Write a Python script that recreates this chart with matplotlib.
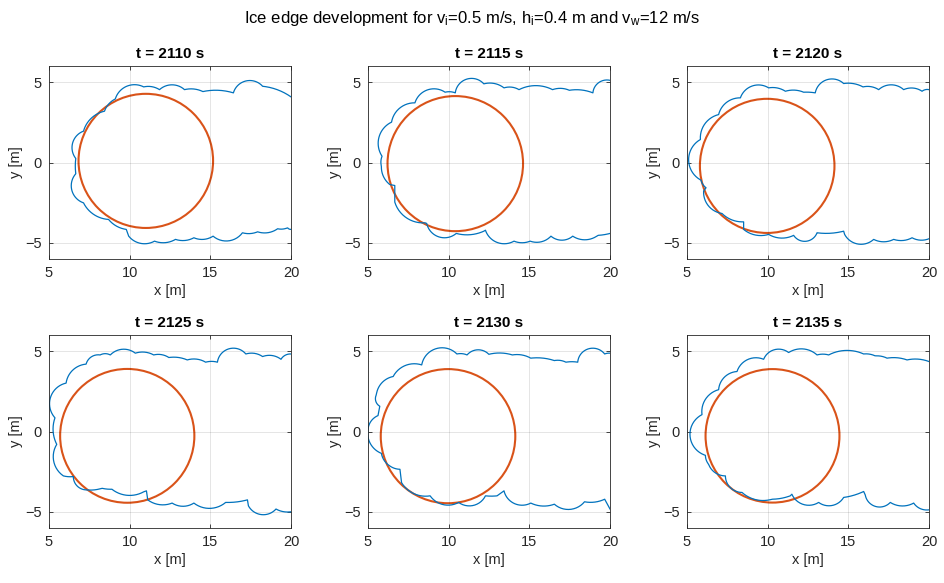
import numpy as np
import matplotlib
matplotlib.use("Agg")
import matplotlib.pyplot as plt
from matplotlib.patches import Circle

plt.rcParams["font.family"] = ["Liberation Sans", "DejaVu Sans"]
plt.rcParams["mathtext.fontset"] = "custom"
plt.rcParams["mathtext.rm"] = "Liberation Sans"
plt.rcParams["mathtext.it"] = "Liberation Sans:italic"

# Simulation snapshots
times = [2110, 2115, 2120, 2125, 2130, 2135]

# Ice edge cusp points (x, y) in metres and arc sagitta of each segment
# (segment i joins point i and point i+1, bulging outward; 0 = straight)
edge_x_2110 = [20.0, 18.24, 16.43, 14.54, 13.40, 11.85, 10.87, 9.11, 8.44, 7.14, 6.66, 6.66, 7.14,
               8.69, 9.79, 9.94, 11.54, 12.84, 13.98, 15.17, 16.99, 17.93, 19.17, 19.79, 20.0]
edge_y_2110 = [4.08, 4.74, 4.33, 4.41, 4.53, 4.53, 4.70, 3.95, 3.19, 1.95, 0.25, -0.70, -2.51,
               -3.54, -4.16, -4.58, -4.89, -4.78, -4.68, -4.58, -4.37, -4.31, -4.12, -4.06, -4.16]
sag_2110 = [0.12, 0.55, 0.12, 0.10, 0.30, 0.10, 0.45, 0.10, 0.25, 0.45, 0.03, 0.50,
            0.25, 0.12, 0.0, 0.30, 0.15, 0.12, 0.15, 0.40, 0.08, 0.15, 0.05, 0.03]

edge_x_2115 = [20.0, 18.94, 17.48, 16.44, 14.36, 13.43, 12.18, 10.41, 9.78, 7.91, 6.46, 5.87, 5.83,
               6.35, 6.66, 6.66, 8.54, 8.64, 10.47, 12.18, 12.28, 14.05, 15.05, 16.34, 17.69, 19.25, 20.0]
edge_y_2115 = [5.11, 4.33, 4.49, 4.53, 4.53, 4.64, 4.89, 4.33, 4.37, 3.71, 2.51, 0.39, -0.23,
               -1.37, -1.43, -2.46, -3.75, -3.79, -4.41, -4.27, -4.21, -4.89, -4.89, -4.58, -4.58, -4.53, -4.41]
sag_2115 = [0.30, 0.10, 0.10, 0.25, 0.10, 0.15, 0.60, 0.05, 0.50, 0.35, 0.50, 0.05,
            0.15, 0.0, 0.0, 0.40, 0.0, 0.55, 0.15, 0.0, 0.45, 0.10, 0.20, 0.25, 0.25, 0.02]

edge_x_2120 = [20.0, 19.57, 18.43, 16.88, 15.91, 14.71, 12.95, 12.23, 11.10, 10.06, 8.31, 6.96, 5.83,
               5.87, 6.18, 6.03, 7.17, 8.51, 8.51, 10.06, 11.61, 13.06, 14.71, 14.77, 16.57, 17.81, 18.95, 20.0]
edge_y_2120 = [4.53, 4.43, 4.53, 4.53, 4.70, 4.91, 4.33, 4.37, 4.43, 4.64, 4.02, 2.98, 1.43,
               -1.10, -1.57, -1.78, -3.17, -3.69, -4.16, -4.47, -4.53, -4.37, -4.27, -4.47, -4.78, -4.78, -4.68, -4.74]
sag_2120 = [0.05, 0.15, 0.30, 0.10, 0.10, 0.55, 0.02, 0.10, 0.10, 0.45, 0.30, 0.35, 0.75,
            0.05, 0.0, 0.35, 0.15, 0.0, 0.20, 0.20, 0.45, 0.08, 0.0, 0.45, 0.15, 0.12, 0.12]

edge_x_2125 = [20.0, 19.38, 18.24, 17.20, 15.44, 14.71, 13.57, 12.43, 11.49, 10.35, 8.80, 8.17, 7.30,
               6.06, 5.37, 5.48, 5.89, 6.51, 7.34, 8.28, 8.90, 10.87, 11.04, 11.12, 12.63, 13.98,
               15.95, 17.30, 17.36, 19.07, 20.0]
edge_y_2125 = [4.82, 4.49, 4.66, 4.82, 4.31, 4.31, 4.45, 4.60, 4.76, 4.87, 4.76, 4.76, 4.19,
               3.01, 0.85, -0.80, -2.76, -2.80, -3.63, -3.53, -3.59, -3.75, -3.69, -4.25, -4.45, -4.45,
               -4.41, -4.25, -4.62, -4.82, -4.99]
sag_2125 = [0.10, 0.15, 0.12, 0.60, 0.05, 0.12, 0.08, 0.10, 0.12, 0.30, 0.08, 0.20, 0.30,
            0.65, 0.17, 0.40, 0.03, 0.25, 0.05, 0.02, 0.30, 0.0, 0.0, 0.20, 0.20, 0.35, 0.05,
            0.0, 0.45, 0.08]

edge_x_2130 = [20.0, 19.67, 18.00, 17.27, 16.55, 15.09, 13.95, 12.49, 11.14, 10.51, 8.33, 6.56, 5.52,
               5.73, 5.62, 5.00, 5.83, 6.35, 6.98, 7.08, 8.85, 10.62, 12.28, 13.00, 13.43, 15.09,
               16.55, 18.42, 19.67, 20.0]
edge_y_2130 = [4.87, 4.82, 4.31, 4.31, 4.41, 4.56, 4.76, 4.80, 4.76, 4.82, 4.14, 3.42, 2.29,
               1.57, 0.99, 0.12, -1.36, -2.14, -2.35, -3.18, -4.00, -4.41, -4.00, -4.00, -3.69, -4.45,
               -4.52, -4.37, -4.21, -4.82]
sag_2130 = [0.02, 0.60, 0.03, 0.06, 0.08, 0.10, 0.10, 0.30, 0.05, 0.70, 0.35, 0.25, 0.15,
            0.0, 0.15, 0.30, 0.10, 0.05, 0.0, 0.30, 0.35, 0.40, 0.02, 0.0, 0.45, 0.15, 0.40,
            0.10, 0.0]

edge_x_2135 = [20.0, 18.64, 17.40, 16.67, 15.95, 13.78, 13.06, 11.30, 9.75, 8.10, 6.96, 5.93, 6.14,
               6.34, 7.38, 8.41, 10.27, 11.40, 11.50, 13.16, 14.71, 15.95, 16.05, 17.60, 19.05, 20.0]
edge_y_2135 = [4.35, 4.45, 4.56, 4.70, 4.82, 4.76, 4.76, 4.91, 4.49, 3.73, 2.60, 1.05, -1.48,
               -2.04, -2.76, -3.79, -4.21, -4.00, -3.90, -4.41, -4.10, -3.73, -3.95, -4.41, -4.45, -4.87]
sag_2135 = [0.10, 0.08, 0.05, 0.05, 0.25, 0.05, 0.30, 0.40, 0.40, 0.30, 0.35, 0.85, 0.05,
            0.20, 0.30, 0.25, 0.05, 0.0, 0.40, 0.35, 0.05, 0.0, 0.50, 0.20, 0.15]

edges_x = [edge_x_2110, edge_x_2115, edge_x_2120, edge_x_2125, edge_x_2130, edge_x_2135]
edges_y = [edge_y_2110, edge_y_2115, edge_y_2120, edge_y_2125, edge_y_2130, edge_y_2135]
sags = [sag_2110, sag_2115, sag_2120, sag_2125, sag_2130, sag_2135]

# Structure (circle) centre and radius at each snapshot
circ_x = [11.0, 10.41, 9.97, 9.85, 9.96, 10.30]
circ_y = [0.10, -0.07, -0.21, -0.27, -0.29, -0.27]
circ_r = [4.17, 4.20, 4.17, 4.16, 4.17, 4.15]

BLUE = "#0072BD"
ORANGE = "#D95319"


def scalloped(xs, ys, ss, n=40):
    """Trace an edge made of circular arcs between consecutive cusps."""
    ox, oy = [xs[0]], [ys[0]]
    for i in range(len(xs) - 1):
        p = np.array([xs[i], ys[i]])
        q = np.array([xs[i + 1], ys[i + 1]])
        s = ss[i]
        d = q - p
        c = np.hypot(*d)
        if s <= 0 or c == 0:
            ox.append(q[0]); oy.append(q[1])
            continue
        t = d / c
        nrm = np.array([t[1], -t[0]])  # outward side of travel direction
        R = (c * c / 4 + s * s) / (2 * s)
        m = (p + q) / 2
        ctr = m + nrm * (s - R)
        a = 2 * np.arctan(2 * s / c)
        phi = np.linspace(-a, a, n)[1:]
        pts = ctr[None, :] + R * (np.cos(phi)[:, None] * nrm[None, :] + np.sin(phi)[:, None] * t[None, :])
        ox.extend(pts[:, 0]); oy.extend(pts[:, 1])
    return np.array(ox), np.array(oy)


fig = plt.figure(figsize=(9.44, 5.83), dpi=100)
lefts = [49 / 944, 368 / 944, 687 / 944]
bottoms = [1 - 259 / 583, 1 - 528 / 583]
w, h = 242 / 944, 193 / 583

for k, t in enumerate(times):
    r, c = divmod(k, 3)
    ax = fig.add_axes([lefts[c], bottoms[r], w, h])
    ex, ey = scalloped(edges_x[k], edges_y[k], sags[k])
    ax.plot(ex, ey, color=BLUE, lw=0.9, solid_joinstyle="round")
    ax.add_patch(Circle((circ_x[k], circ_y[k]), circ_r[k], fill=False,
                        edgecolor=ORANGE, lw=1.5))
    ax.set_xlim(5, 20)
    ax.set_ylim(-6, 6)
    ax.set_xticks([5, 10, 15, 20])
    ax.set_yticks([-5, 0, 5])
    ax.grid(True, color="#000000", alpha=0.12, lw=0.6)
    ax.tick_params(direction="in", length=3, width=0.6, labelsize=10.5,
                   colors="#262626", top=True, right=True, pad=5)
    for sp in ax.spines.values():
        sp.set_color("#262626")
        sp.set_linewidth(0.6)
    ax.set_xlabel("x [m]", fontsize=10.5, color="#262626", labelpad=3)
    ax.set_ylabel("y [m]", fontsize=10.5, color="#262626", labelpad=2)
    ax.set_title(f"t = {t} s", fontsize=11, fontweight="bold", color="black", pad=6)

fig.suptitle(r"Ice edge development for v$_\mathrm{i}$=0.5 m/s, h$_\mathrm{i}$=0.4 m and v$_\mathrm{w}$=12 m/s",
             fontsize=12, y=0.985)

fig.savefig("out.png", dpi=100)
